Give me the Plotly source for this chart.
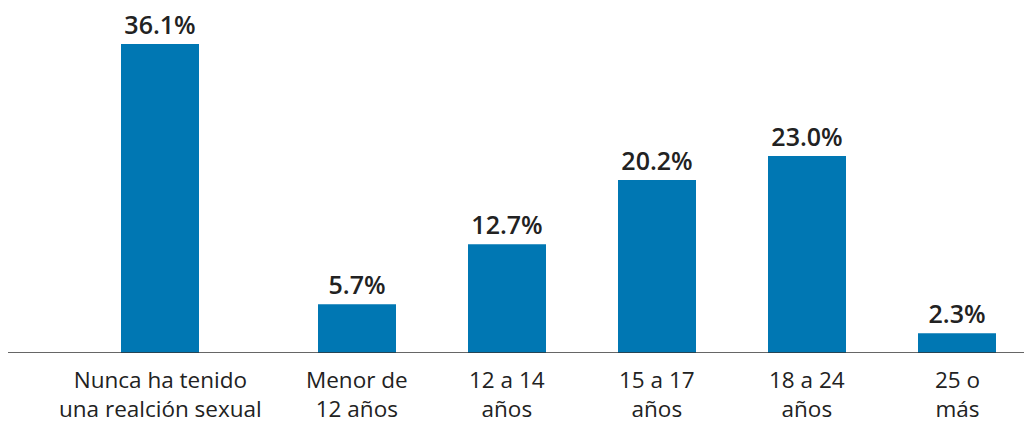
import plotly.graph_objects as go

first_category = ["Nunca ha tenido<br>una realción sexual"]
first_value = [36.1]
age_categories = ["Menor de<br>12 años", "12 a 14<br>años", "15 a 17<br>años", "18 a 24<br>años", "25 o<br>más"]
age_values = [5.7, 12.7, 20.2, 23.0, 2.3]

BAR_COLOR = "#0077b3"
TEXT_COLOR = "#222222"
FONT = "Open Sans"

def labels(vals):
    return [f"{v:.1f}%" for v in vals]

fig = go.Figure()
fig.add_trace(go.Bar(x=first_category, y=first_value, text=labels(first_value),
                     textposition="outside", cliponaxis=False, marker_color=BAR_COLOR,
                     xaxis="x", yaxis="y"))
fig.add_trace(go.Bar(x=age_categories, y=age_values, text=labels(age_values),
                     textposition="outside", cliponaxis=False, marker_color=BAR_COLOR,
                     xaxis="x2", yaxis="y"))

fig.update_traces(textfont=dict(family=FONT, size=25, color=TEXT_COLOR, weight=600),
                  constraintext="none", marker_line_width=0, hoverinfo="skip")

# category labels as annotations under the axis line
annotations = []
for cats, xr in ((first_category, "x"), (age_categories, "x2")):
    for c in cats:
        annotations.append(dict(x=c, xref=xr, y=0, yref="paper", text=c,
                                showarrow=False, xanchor="center", yanchor="middle",
                                yshift=-41, align="center",
                                font=dict(family=FONT, size=22.5, color=TEXT_COLOR)))

W = 1022
def dom(a, b):
    return [(a - 10) / W, (b - 10) / W]

fig.update_layout(
    template="none",
    width=1032, height=415,
    margin=dict(l=2, r=8, t=0, b=70, pad=0),
    paper_bgcolor="white", plot_bgcolor="white",
    showlegend=False,
    bargap=0.48,
    xaxis=dict(domain=dom(85, 235), range=[-0.5, 0.5], showline=False, showgrid=False,
               ticks="", zeroline=False, showticklabels=False, fixedrange=True,
               automargin=False),
    xaxis2=dict(domain=dom(282, 1032), range=[-0.5, 4.5], showline=False, showgrid=False,
                ticks="", zeroline=False, showticklabels=False, anchor="y",
                fixedrange=True, automargin=False),
    yaxis=dict(range=[0, 40.3], visible=False, fixedrange=True, automargin=False),
    annotations=annotations,
    shapes=[dict(type="line", xref="paper", yref="y", x0=-2/W, x1=1 + 8/W, y0=0, y1=0,
                 line=dict(color="#333333", width=1.5))],
)

fig.write_html("out.html")
